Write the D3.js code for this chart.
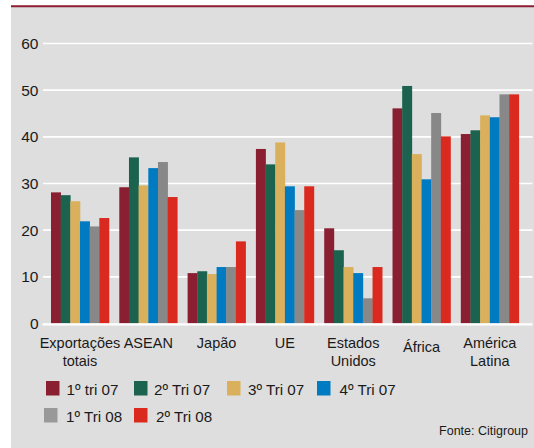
<!DOCTYPE html>
<html>
<head>
<meta charset="utf-8">
<script src="https://cdn.jsdelivr.net/npm/d3@7"></script>
<style>
  html, body { margin: 0; padding: 0; background: #ffffff; }
  svg { display: block; font-family: "Liberation Sans", Arial, sans-serif; }
</style>
</head>
<body>
<svg id="chart" width="534" height="448"></svg>
<script>
// ---- data ----
const categories = [["Exportações", "totais"], ["ASEAN"], ["Japão"], ["UE"], ["Estados", "Unidos"], ["África"], ["América", "Latina"]];
const seriesNames = ["1º tri 07", "2º Tri 07", "3º Tri 07", "4º Tri 07", "1º Tri 08", "2º Tri 08"];
const q1_07 = [28.1, 29.2, 10.8, 37.4, 20.4, 46.1, 40.6];
const q2_07 = [27.5, 35.6, 11.2, 34.1, 15.7, 50.9, 41.4];
const q3_07 = [26.2, 29.6, 10.6, 38.8, 12.1, 36.3, 44.6];
const q4_07 = [21.9, 33.3, 12.1, 29.4, 10.8, 30.9, 44.2];
const q1_08 = [20.8, 34.6, 12.1, 24.3, 5.4, 45.1, 49.1];
const q2_08 = [22.6, 27.1, 17.6, 29.4, 12.1, 40.1, 49.1];
const yTicks = [0, 10, 20, 30, 40, 50, 60];
const source = "Fonte: Citigroup";

// ---- styles ----
const colors = ["#8a1f31", "#1c634f", "#dab05c", "#007bc2", "#888888", "#da2a1f"];
const legendColors = ["#8a1f31", "#1c634f", "#dab05c", "#007bc2", "#999999", "#da2a1f"];
const series = [q1_07, q2_07, q3_07, q4_07, q1_08, q2_08];

const svg = d3.select("#chart");

// background panel
svg.append("rect").attr("x", 11).attr("y", 6).attr("width", 523).attr("height", 442).attr("fill", "#dedede");
svg.append("line").attr("x1", 11).attr("x2", 534).attr("y1", 6.2).attr("y2", 6.2)
  .attr("stroke", "#8b1c31").attr("stroke-width", 2);

const catKeys = categories.map(c => c.join(" "));
const x0 = d3.scaleBand().domain(catKeys).range([43, 526.8]).paddingInner(0.151).paddingOuter(0.117);
const x1 = d3.scaleBand().domain(d3.range(seriesNames.length)).range([0, x0.bandwidth()]).padding(0);
const y = d3.scaleLinear().domain([0, 60]).range([323.5, 43.5]);

// gridlines
svg.append("g").selectAll("line").data(yTicks.filter(t => t !== 0)).join("line")
  .attr("x1", 43).attr("x2", 532.5)
  .attr("y1", d => y(d)).attr("y2", d => y(d))
  .attr("stroke", "#ffffff").attr("stroke-width", 1.6);

// y tick labels
svg.append("g").selectAll("text").data(yTicks).join("text")
  .attr("x", 38.5).attr("y", d => y(d) + 5.5)
  .attr("text-anchor", "end").attr("font-size", 15.5).attr("fill", "#1a1a1a")
  .text(d => d);

// bars
const groups = svg.append("g").selectAll("g").data(catKeys).join("g")
  .attr("transform", d => `translate(${x0(d)},0)`);
groups.selectAll("rect").data((d, i) => series.map((s, j) => ({ j, v: s[i] }))).join("rect")
  .attr("x", d => x1(d.j)).attr("width", x1.bandwidth() + 0.3)
  .attr("y", d => y(d.v)).attr("height", d => y(0) - y(d.v))
  .attr("fill", d => colors[d.j]);

// zero line
svg.append("line").attr("x1", 42.5).attr("x2", 532.5).attr("y1", y(0) + 0.8).attr("y2", y(0) + 0.8)
  .attr("stroke", "#ffffff").attr("stroke-width", 2.2);

// category labels
const catLabels = svg.append("g").selectAll("text").data(categories).join("text")
  .attr("text-anchor", "middle").attr("font-size", 14.5).attr("fill", "#1a1a1a")
  .attr("x", (d, i) => x0(catKeys[i]) + x0.bandwidth() / 2)
  .attr("y", d => d[0] === "África" ? 351.5 : 348);
catLabels.selectAll("tspan").data(d => d).join("tspan")
  .attr("x", function () { return d3.select(this.parentNode).attr("x"); })
  .attr("dy", (d, i) => i === 0 ? 0 : 17.5)
  .text(d => d);

// legend
const legendPos = [[46, 381], [134, 381], [227, 381], [317, 381], [44, 408], [134, 408]];
const textGap = [20.5, 20, 21, 22.5, 22, 22];
const leg = svg.append("g").selectAll("g").data(seriesNames).join("g")
  .attr("transform", (d, i) => `translate(${legendPos[i][0]},${legendPos[i][1]})`);
leg.append("rect").attr("width", 13.5).attr("height", 14.5).attr("fill", (d, i) => legendColors[i]);
leg.append("text").attr("x", (d, i) => textGap[i]).attr("y", 14)
  .attr("font-size", 15.2).attr("fill", "#1a1a1a").text(d => d);

// source
svg.append("text").attr("x", 528).attr("y", 435).attr("text-anchor", "end")
  .attr("font-size", 12.5).attr("fill", "#1a1a1a").text(source);
</script>
</body>
</html>
